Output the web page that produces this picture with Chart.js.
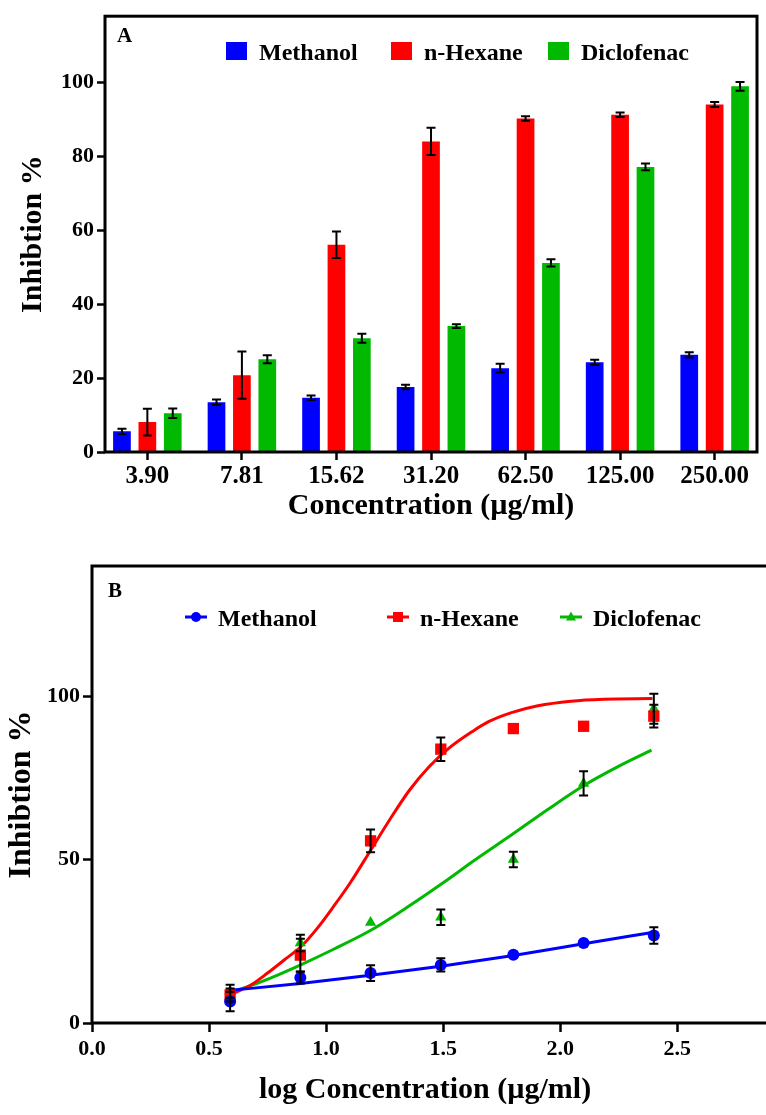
<!DOCTYPE html>
<html>
<head>
<meta charset="utf-8">
<script src="https://cdn.jsdelivr.net/npm/chart.js@4.4.1/dist/chart.umd.min.js"></script>
<style>
    html, body { margin: 0; padding: 0; background: #fff; overflow: hidden; }
    #wrap { position: relative; width: 766px; height: 1115px; }
    canvas { position: absolute; left: 0; }
    #chartA { top: 0; width: 766px; height: 540px; }
    #chartB { top: 540px; width: 766px; height: 575px; }
</style>
</head>
<body>
<div id="wrap">
    <canvas id="chartA" width="766" height="540"></canvas>
    <canvas id="chartB" width="766" height="575"></canvas>
</div>
<script>
// categories / series
const concLabels = ['3.90', '7.81', '15.62', '31.20', '62.50', '125.00', '250.00'];
const seriesNames = ['Methanol', 'n-Hexane', 'Diclofenac'];
const seriesColors = ['#0000ff', '#ff0000', '#00b900'];

// panel A: inhibition % (mean and error)
const methanolA = [5.6, 13.5, 14.7, 17.6, 22.7, 24.3, 26.3];
const methanolErrA = [0.7, 0.7, 0.6, 0.6, 1.2, 0.7, 0.7];
const hexaneA = [8.1, 20.8, 56.1, 84.1, 90.3, 91.3, 94.1];
const hexaneErrA = [3.6, 6.4, 3.6, 3.7, 0.6, 0.6, 0.7];
const diclofenacA = [10.5, 25.1, 30.8, 34.1, 51.2, 77.2, 99.0];
const diclofenacErrA = [1.3, 1.1, 1.2, 0.5, 1.0, 0.9, 1.2];
const yTicksA = [0, 20, 40, 60, 80, 100];

// panel B: log concentration points
const logConc = [0.59, 0.89, 1.19, 1.49, 1.80, 2.10, 2.40];
const methanolB = [6.6, 13.9, 15.3, 17.8, 20.9, 24.5, 26.8];
const methanolErrB = [3.0, 1.8, 2.4, 2.0, 0, 0, 2.5];
const hexaneB = [8.6, 20.8, 55.8, 83.9, 90.2, 90.9, 94.0];
const hexaneErrB = [2.0, 5.0, 3.5, 3.6, 0, 0, 3.5];
const diclofenacB = [9.7, 24.5, 30.8, 32.4, 50.1, 73.4, 96.3];
const diclofenacErrB = [2.0, 2.5, 0, 2.4, 2.4, 3.7, 4.6];

// fitted curves
const fitMethanolY = [10.0, 12.1, 14.6, 17.4, 20.7, 24.3, 27.8];
const fitHexaneX = [0.591, 0.68, 0.75, 0.821, 0.894, 0.962, 1.032, 1.102, 1.191, 1.271, 1.356, 1.44, 1.525, 1.623, 1.694, 1.792, 1.905, 2.046, 2.186, 2.394];
const fitHexaneY = [8.7, 11.7, 15.3, 19.3, 23.5, 29.0, 35.7, 42.8, 53.0, 62.2, 71.3, 78.5, 84.2, 89.2, 92.3, 95.1, 97.2, 98.6, 99.2, 99.4];
const fitDiclofenacX = [0.591, 0.68, 0.793, 0.894, 1.032, 1.191, 1.356, 1.497, 1.637, 1.796, 1.947, 2.098, 2.257, 2.39];
const fitDiclofenacY = [9.4, 11.5, 14.7, 17.9, 22.6, 28.4, 35.9, 42.8, 50.0, 57.8, 65.4, 72.6, 78.9, 83.6];
const xTicksB = [0, 0.5, 1.0, 1.5, 2.0, 2.5];
const yTicksB = [0, 50, 100];

const SERIF = '"Liberation Serif", "Times New Roman", serif';
const font = (size) => ({ family: SERIF, size: size, weight: 'bold' });
const toXY = (xs, ys) => xs.map((x, i) => ({ x: x, y: ys[i] }));

// error bars drawn from each dataset's "errors" array
const errorBars = {
    id: 'errorBars',
    afterDatasetsDraw(chart) {
        const ctx = chart.ctx;
        const yScale = chart.scales.y;
        ctx.save();
        ctx.strokeStyle = '#000';
        ctx.lineWidth = 2;
        chart.data.datasets.forEach((ds, i) => {
            if (!ds.errors) return;
            chart.getDatasetMeta(i).data.forEach((el, j) => {
                const e = ds.errors[j];
                if (!e) return;
                const raw = ds.data[j];
                const v = typeof raw === 'object' ? raw.y : raw;
                const top = yScale.getPixelForValue(v + e);
                const bot = yScale.getPixelForValue(v - e);
                const x = el.x, w = 4.5;
                ctx.beginPath();
                ctx.moveTo(x, top); ctx.lineTo(x, bot);
                ctx.moveTo(x - w, top); ctx.lineTo(x + w, top);
                ctx.moveTo(x - w, bot); ctx.lineTo(x + w, bot);
                ctx.stroke();
            });
        });
        ctx.restore();
    }
};

function drawMarker(ctx, style, x, y, r) {
    ctx.beginPath();
    if (style === 'circle') {
        ctx.arc(x, y, r, 0, Math.PI * 2);
    } else if (style === 'rect') {
        ctx.rect(x - r, y - r, 2 * r, 2 * r);
    } else {
        ctx.moveTo(x, y - r * 1.1);
        ctx.lineTo(x + r, y + r * 0.7);
        ctx.lineTo(x - r, y + r * 0.7);
        ctx.closePath();
    }
    ctx.fill();
}

// ---------- Panel A ----------
const panelA = {
    id: 'panelA',
    afterDraw(chart) {
        const ctx = chart.ctx;
        const a = chart.chartArea;
        ctx.save();
        ctx.strokeStyle = '#000';
        ctx.lineWidth = 3;
        ctx.strokeRect(a.left, a.top, a.right - a.left, a.bottom - a.top);

        ctx.fillStyle = '#000';
        ctx.textBaseline = 'alphabetic';
        ctx.font = 'bold 21px ' + SERIF;
        ctx.fillText('A', 117, 42);

        const boxX = [226, 391, 548];
        ctx.font = 'bold 24px ' + SERIF;
        seriesNames.forEach((name, i) => {
            ctx.fillStyle = seriesColors[i];
            ctx.fillRect(boxX[i], 42, 21, 18);
            ctx.fillStyle = '#000';
            ctx.fillText(name, boxX[i] + 33, 60);
        });
        ctx.restore();
    }
};

const edgeCat = 0.448;

new Chart(document.getElementById('chartA'), {
    type: 'bar',
    data: {
        labels: concLabels,
        datasets: [
            { label: seriesNames[0], data: methanolA, errors: methanolErrA, backgroundColor: seriesColors[0] },
            { label: seriesNames[1], data: hexaneA, errors: hexaneErrA, backgroundColor: seriesColors[1] },
            { label: seriesNames[2], data: diclofenacA, errors: diclofenacErrA, backgroundColor: seriesColors[2] }
        ]
    },
    options: {
        responsive: false,
        animation: false,
        devicePixelRatio: 1,
        layout: { padding: { top: 14, right: 9, left: 0, bottom: 0 } },
        datasets: { bar: { categoryPercentage: 0.806, barPercentage: 0.697, borderWidth: 0 } },
        plugins: { legend: { display: false }, tooltip: { enabled: false } },
        scales: {
            x: {
                grid: { drawOnChartArea: false, offset: false, tickLength: 8, tickWidth: 2.5, tickColor: '#000' },
                border: { display: false },
                ticks: { color: '#000', font: font(25), padding: 2, maxRotation: 0, autoSkip: false },
                title: { display: true, text: 'Concentration (µg/ml)', color: '#000', font: font(30), padding: { top: 0, bottom: 16 } },
                afterBuildTicks: (s) => {
                    s._startValue = -edgeCat;
                    s._valueRange = concLabels.length - 1 + 2 * edgeCat;
                },
                afterFit: (s) => { s.height = 88; }
            },
            y: {
                min: 0,
                max: 118,
                grid: { drawOnChartArea: false, tickLength: 8, tickWidth: 2.5, tickColor: '#000' },
                border: { display: false },
                ticks: { color: '#000', font: font(22), padding: 3 },
                afterBuildTicks: (s) => { s.ticks = yTicksA.map(v => ({ value: v })); },
                title: { display: true, text: 'Inhibtion %', color: '#000', font: font(30), padding: { top: 15, bottom: 0 } },
                afterFit: (s) => { s.width = 105; }
            }
        }
    },
    plugins: [errorBars, panelA]
});

// ---------- Panel B ----------
const markerStyles = ['circle', 'rect', 'triangle'];
const markerRadius = [6, 8, 6.5];

const panelB = {
    id: 'panelB',
    afterDraw(chart) {
        const ctx = chart.ctx;
        const a = chart.chartArea;
        ctx.save();
        ctx.strokeStyle = '#000';
        ctx.lineWidth = 3;
        ctx.beginPath();
        ctx.moveTo(chart.width, a.top);
        ctx.lineTo(a.left, a.top);
        ctx.lineTo(a.left, a.bottom);
        ctx.lineTo(chart.width, a.bottom);
        ctx.stroke();

        ctx.fillStyle = '#000';
        ctx.textBaseline = 'alphabetic';
        ctx.font = 'bold 21px ' + SERIF;
        ctx.fillText('B', 108, 57);

        const itemX = [185, 387, 560];
        const ly = 77;
        ctx.font = 'bold 24px ' + SERIF;
        seriesNames.forEach((name, i) => {
            ctx.strokeStyle = seriesColors[i];
            ctx.fillStyle = seriesColors[i];
            ctx.lineWidth = 3;
            ctx.beginPath();
            ctx.moveTo(itemX[i], ly);
            ctx.lineTo(itemX[i] + 22, ly);
            ctx.stroke();
            drawMarker(ctx, markerStyles[i], itemX[i] + 11, ly, 5);
            ctx.fillStyle = '#000';
            ctx.fillText(name, itemX[i] + 33, 86);
        });
        ctx.restore();
    }
};

const pointSet = (i, ys, errs) => ({
    label: seriesNames[i],
    data: toXY(logConc, ys),
    errors: errs,
    showLine: false,
    pointStyle: markerStyles[i],
    pointRadius: markerRadius[i],
    pointBorderWidth: 0,
    backgroundColor: seriesColors[i],
    borderColor: seriesColors[i],
    order: 0
});
const fitSet = (i, xs, ys) => ({
    label: seriesNames[i] + ' fit',
    data: toXY(xs, ys),
    showLine: true,
    pointRadius: 0,
    borderWidth: 3,
    borderColor: seriesColors[i],
    backgroundColor: seriesColors[i],
    cubicInterpolationMode: 'monotone',
    order: 1
});

new Chart(document.getElementById('chartB'), {
    type: 'scatter',
    data: {
        datasets: [
            pointSet(0, methanolB, methanolErrB),
            pointSet(1, hexaneB, hexaneErrB),
            pointSet(2, diclofenacB, diclofenacErrB),
            fitSet(0, logConc, fitMethanolY),
            fitSet(1, fitHexaneX, fitHexaneY),
            fitSet(2, fitDiclofenacX, fitDiclofenacY)
        ]
    },
    options: {
        responsive: false,
        animation: false,
        devicePixelRatio: 1,
        layout: { padding: { top: 26, right: 0, left: 0, bottom: 0 } },
        plugins: { legend: { display: false }, tooltip: { enabled: false } },
        scales: {
            x: {
                type: 'linear',
                min: 0,
                max: 2.845,
                grid: { drawOnChartArea: false, tickLength: 9, tickWidth: 2.5, tickColor: '#000' },
                border: { display: false },
                ticks: { color: '#000', font: font(22), padding: 4, callback: (v) => Number(v).toFixed(1) },
                afterBuildTicks: (s) => { s.ticks = xTicksB.map(v => ({ value: v })); },
                title: { display: true, text: 'log Concentration (µg/ml)', color: '#000', font: font(30), padding: { top: 0, bottom: 7 } },
                afterFit: (s) => { s.height = 92; }
            },
            y: {
                min: 0,
                max: 140,
                grid: { drawOnChartArea: false, tickLength: 9, tickWidth: 2.5, tickColor: '#000' },
                border: { display: false },
                ticks: { color: '#000', font: font(22), padding: 3 },
                afterBuildTicks: (s) => { s.ticks = yTicksB.map(v => ({ value: v })); },
                title: { display: true, text: 'Inhibtion %', color: '#000', font: font(32), padding: { top: 3, bottom: 0 } },
                afterFit: (s) => { s.width = 92; }
            }
        }
    },
    plugins: [errorBars, panelB]
});
</script>
</body>
</html>
